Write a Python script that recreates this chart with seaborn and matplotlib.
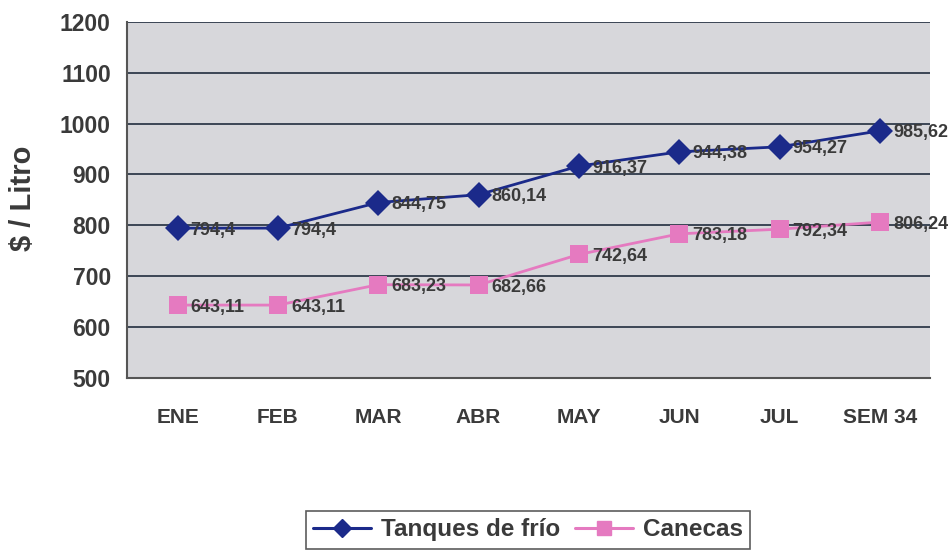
import numpy as np
import pandas as pd
import matplotlib
matplotlib.use("Agg")
import matplotlib.pyplot as plt
import seaborn as sns

# datos
meses = ["ENE", "FEB", "MAR", "ABR", "MAY", "JUN", "JUL", "SEM 34"]
tanques = [794.4, 794.4, 844.75, 860.14, 916.37, 944.38, 954.27, 985.62]
canecas = [643.11, 643.11, 683.23, 682.66, 742.64, 783.18, 792.34, 806.24]
series = ["Tanques de frío", "Canecas"]

df = pd.DataFrame({
    "mes": meses * 2,
    "valor": tanques + canecas,
    "serie": [series[0]] * len(meses) + [series[1]] * len(meses),
})
df["x"] = df["mes"].map({m: i for i, m in enumerate(meses)})

sns.set_style("white")
plt.rcParams["font.family"] = ["Liberation Sans", "DejaVu Sans"]

fig = plt.figure(figsize=(9.51, 5.59), dpi=100)
ax = fig.add_axes([0.134, 0.324, 0.844, 0.637])
ax.set_facecolor("#d7d7db")

colores = {series[0]: "#1b2a8a", series[1]: "#e57ac0"}
sns.lineplot(data=df, x="x", y="valor", hue="serie", style="serie",
             palette=colores, markers={series[0]: "D", series[1]: "s"},
             dashes=False, markersize=13, linewidth=2, ax=ax,
             markeredgewidth=0, legend=False)

# etiquetas de datos
for vals in (tanques, canecas):
    for i, v in enumerate(vals):
        ax.text(i + 0.13, v - 4, f"{v:g}".replace(".", ","), ha="left", va="center",
                fontsize=13, fontweight="bold", color="#3a3a3a")

ax.set_xlim(-0.5, len(meses) - 0.5)
ax.set_ylim(500, 1200)
ax.set_yticks(np.arange(500, 1201, 100))
ax.yaxis.grid(True, color="#2f3a4a", linewidth=1.3)
ax.set_axisbelow(True)

ax.set_xticks(np.arange(-0.5, len(meses), 1))
ax.set_xticklabels([])
ax.set_xticks(range(len(meses)), minor=True)
ax.set_xticklabels(meses, minor=True)
ax.tick_params(axis="x", which="major", length=6, width=1.2, color="#555555", direction="out")
ax.tick_params(axis="x", which="minor", length=0, pad=22, labelsize=15, labelcolor="#3a3a3a")
ax.tick_params(axis="y", length=0, pad=12, labelsize=16.5, labelcolor="#3a3a3a")
for lab in ax.get_yticklabels() + ax.get_xticklabels(minor=True):
    lab.set_fontweight("bold")

for s in ["top", "right"]:
    ax.spines[s].set_visible(False)
ax.spines["left"].set_color("#555555")
ax.spines["bottom"].set_color("#555555")
ax.spines["left"].set_linewidth(1.5)
ax.spines["bottom"].set_linewidth(1.5)

ax.set_xlabel("")
ax.set_ylabel("$ / Litro", fontsize=21, fontweight="bold", color="#3a3a3a")
ax.yaxis.set_label_coords(-0.113, 0.505)

# leyenda
handles = [
    plt.Line2D([], [], color=colores[series[0]], marker="D", markersize=9, linewidth=2.2),
    plt.Line2D([], [], color=colores[series[1]], marker="s", markersize=10, linewidth=2.2),
]
leg = fig.legend(handles, series, loc="center", bbox_to_anchor=(0.555, 0.052), ncol=2,
                 frameon=True, fancybox=False, edgecolor="#333333", fontsize=17.5,
                 handlelength=2.4, columnspacing=0.6, handletextpad=0.4,
                 borderpad=0.3)
leg.get_frame().set_linewidth(1.2)
for t in leg.get_texts():
    t.set_color("#3a3a3a")
    t.set_fontweight("bold")

fig.savefig("out.png", dpi=100, facecolor="white")
